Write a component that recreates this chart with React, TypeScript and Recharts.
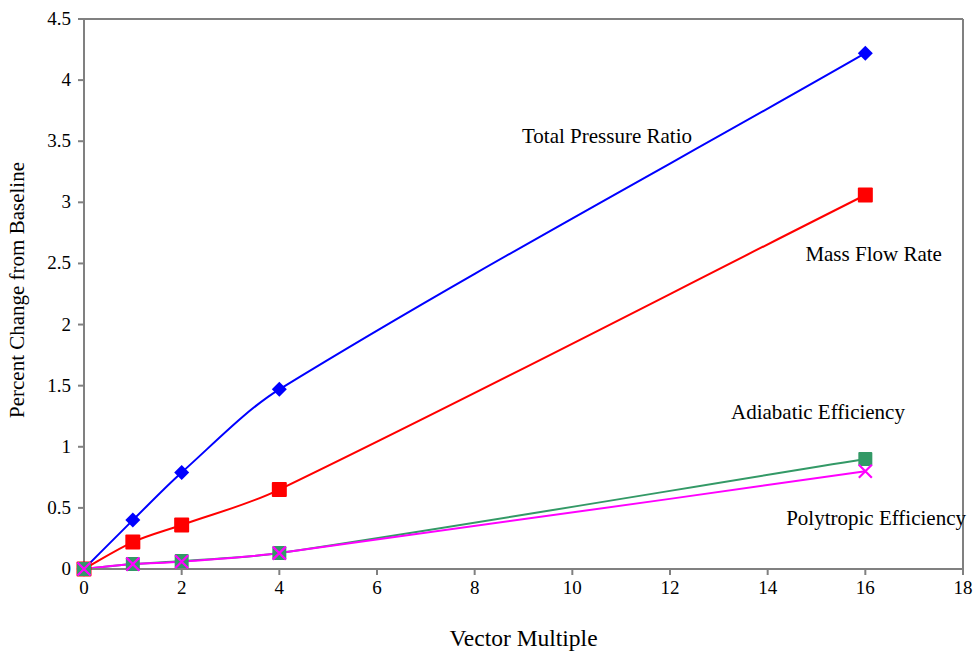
import { LineChart, Line, XAxis, YAxis, ReferenceLine, ReferenceDot, Label } from 'recharts';

const vectorMultiple = [0, 1, 2, 4, 16];
const totalPressureRatio = [0, 0.4, 0.79, 1.47, 4.22];
const massFlowRate = [0, 0.22, 0.36, 0.65, 3.06];
const adiabaticEff = [0, 0.04, 0.065, 0.13, 0.9];
const polytropicEff = [0, 0.04, 0.06, 0.13, 0.8];
const xTicks = [0, 2, 4, 6, 8, 10, 12, 14, 16, 18];
const yTicks = [0, 0.5, 1, 1.5, 2, 2.5, 3, 3.5, 4, 4.5];

const seriesLabels = [
  { text: 'Total Pressure Ratio', x: 10.71, y: 3.545 },
  { text: 'Mass Flow Rate', x: 16.17, y: 2.58 },
  { text: 'Adiabatic Efficiency', x: 15.03, y: 1.29 },
  { text: 'Polytropic Efficiency', x: 16.22, y: 0.425 },
];

const data = vectorMultiple.map((v, i) => ({
  x: v,
  tpr: totalPressureRatio[i],
  mfr: massFlowRate[i],
  ad: adiabaticEff[i],
  pol: polytropicEff[i],
}));

const FONT = '"Liberation Serif", "Times New Roman", serif';
const AXIS = '#808080';

// smoothed line like the spreadsheet one: hermite with finite-difference slopes
const smoothCurve: any = (ctx: any) => {
  let pts: number[][] = [];
  return {
    areaStart() {},
    areaEnd() {},
    lineStart() {
      pts = [];
    },
    point(x: number, y: number) {
      pts.push([+x, +y]);
    },
    lineEnd() {
      const n = pts.length;
      if (!n) return;
      const slope = (a: number[], b: number[]) => (b[1] - a[1]) / (b[0] - a[0] || 1);
      const m = pts.map((p, i) => {
        if (i === 0) return slope(p, pts[1] || p);
        if (i === n - 1) return slope(pts[i - 1], p);
        return slope(pts[i - 1], pts[i + 1]);
      });
      ctx.moveTo(pts[0][0], pts[0][1]);
      for (let i = 0; i < n - 1; i++) {
        const p1 = pts[i];
        const p2 = pts[i + 1];
        const dx = (p2[0] - p1[0]) / 3;
        ctx.bezierCurveTo(p1[0] + dx, p1[1] + m[i] * dx, p2[0] - dx, p2[1] - m[i + 1] * dx, p2[0], p2[1]);
      }
    },
  };
};

const XTick = (p: any) => (
  <text x={p.x} y={p.y} dy={16} textAnchor="middle" fontSize={19} fill="#000" fontFamily={FONT}>
    {p.payload.value}
  </text>
);
const YTick = (p: any) => (
  <text x={p.x} y={p.y} dy={6} textAnchor="end" fontSize={19} fill="#000" fontFamily={FONT}>
    {p.payload.value}
  </text>
);

const Diamond = (p: any) => {
  const { cx, cy } = p;
  if (cx == null) return null;
  const s = 7.5;
  return <path key={p.index} d={`M${cx},${cy - s}L${cx + s},${cy}L${cx},${cy + s}L${cx - s},${cy}Z`} fill="#0000FF" />;
};
const Square = (color: string, s: number) => (p: any) => {
  const { cx, cy } = p;
  if (cx == null) return null;
  return <rect key={p.index} x={cx - s} y={cy - s} width={2 * s} height={2 * s} rx={1} fill={color} />;
};
const Cross = (p: any) => {
  const { cx, cy } = p;
  if (cx == null) return null;
  const s = 6.5;
  return (
    <path key={p.index} d={`M${cx - s},${cy - s}L${cx + s},${cy + s}M${cx - s},${cy + s}L${cx + s},${cy - s}`} stroke="#FF00FF" strokeWidth={2.2} fill="none" />
  );
};

export default function App() {
  return (
    <div style={{ position: 'absolute', left: 0, top: 0, background: '#fff', fontFamily: FONT }}>
      <LineChart width={978} height={656} data={data} margin={{ top: 19, right: 15, bottom: 0, left: 0 }}>
        <XAxis
          dataKey="x"
          type="number"
          domain={[0, 18]}
          ticks={xTicks}
          height={87}
          stroke={AXIS}
          strokeWidth={2}
          tickSize={6}
          tick={XTick}
          tickMargin={3}
        >
          <Label value="Vector Multiple" position="insideBottom" offset={10} style={{ fontSize: 23.5, fill: '#000', fontFamily: FONT }} />
        </XAxis>
        <YAxis
          type="number"
          domain={[0, 4.5]}
          ticks={yTicks}
          width={84}
          stroke={AXIS}
          strokeWidth={2}
          tickSize={6}
          tick={YTick}
          tickMargin={7}
        >
          <Label value="Percent Change from Baseline" angle={-90} position="insideLeft" offset={17} dy={-4} style={{ fontSize: 21, fill: '#000', fontFamily: FONT, textAnchor: 'middle' }} />
        </YAxis>
        <ReferenceLine y={4.5} stroke={AXIS} strokeWidth={2} />
        <ReferenceLine x={18} stroke={AXIS} strokeWidth={2} />
        <Line type={smoothCurve} dataKey="tpr" stroke="#0000FF" strokeWidth={2} dot={Diamond} isAnimationActive={false} />
        <Line type={smoothCurve} dataKey="mfr" stroke="#FF0000" strokeWidth={2} dot={Square('#FF0000', 7.5)} isAnimationActive={false} />
        <Line type={smoothCurve} dataKey="ad" stroke="#339966" strokeWidth={2} dot={Square('#339966', 7)} isAnimationActive={false} />
        <Line type={smoothCurve} dataKey="pol" stroke="#FF00FF" strokeWidth={2} dot={Cross} isAnimationActive={false} />
        {seriesLabels.map((l) => (
          <ReferenceDot
            key={l.text}
            x={l.x}
            y={l.y}
            r={0}
            stroke="none"
            fill="none"
            label={{ value: l.text, position: 'center', style: { fontSize: 21, fill: '#000', fontFamily: FONT } }}
          />
        ))}
      </LineChart>
    </div>
  );
}
